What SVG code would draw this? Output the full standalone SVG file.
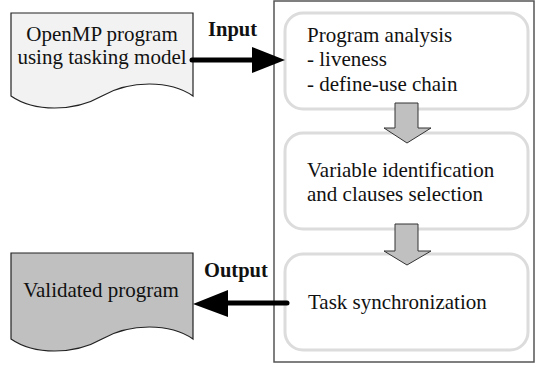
<svg xmlns="http://www.w3.org/2000/svg" width="535" height="367" viewBox="0 0 535 367">
<defs>
<style>
.t{font-family:"Liberation Serif","Times New Roman",serif;font-size:21px;fill:#111}
.lbl{font-family:"Liberation Serif","Times New Roman",serif;font-weight:bold;font-size:20.5px;fill:#111}
.doc{stroke:#222;stroke-width:1.2}
.step{fill:#fff;stroke:#dcdcdc;stroke-width:3}
.flow{fill:#c0c0c0;stroke:#333;stroke-width:1}
.io{stroke:#000;stroke-width:5;stroke-linecap:round;fill:none}
</style>
</defs>
<rect id="frame" x="274" y="1" width="260" height="361" fill="#fff" stroke="#555" stroke-width="1.5"/>
<g id="input-doc">
<path class="doc" fill="#f2f2f2" d="M11,13 H193 V96 C170,80 130,80 102,96 C74,112 34,112 11,96 Z"/>
<text class="t" font-family="Liberation Serif, serif" x="102" y="41" text-anchor="middle" font-size="19.5">OpenMP program</text>
<text class="t" font-family="Liberation Serif, serif" x="102" y="63.5" text-anchor="middle" font-size="19.5">using tasking model</text>
</g>
<g id="output-doc">
<path class="doc" fill="#c0c0c0" d="M11,253 H193 V339 C170,323 130,323 102,339 C74,355 34,355 11,339 Z"/>
<text class="t" font-family="Liberation Serif, serif" x="101" y="297" text-anchor="middle">Validated program</text>
</g>
<g id="analysis">
<rect class="step" x="285" y="13" width="243" height="96" rx="18"/>
<text class="t" font-family="Liberation Serif, serif" x="307" y="42">Program analysis</text>
<text class="t" font-family="Liberation Serif, serif" x="307" y="66">- liveness</text>
<text class="t" font-family="Liberation Serif, serif" x="307" y="91">- define-use chain</text>
</g>
<g id="identification">
<rect class="step" x="285" y="133" width="243" height="96" rx="18"/>
<text class="t" font-family="Liberation Serif, serif" x="307" y="177">Variable identification</text>
<text class="t" font-family="Liberation Serif, serif" x="307" y="201">and clauses selection</text>
</g>
<g id="synchronization">
<rect class="step" x="285" y="254" width="243" height="96" rx="18"/>
<text class="t" font-family="Liberation Serif, serif" x="308" y="309">Task synchronization</text>
</g>
<g id="connectors">
<path class="flow" d="M395,103 H418 V128 H431 L407,143 L384,128 H395 Z"/>
<path class="flow" d="M395,224 H418 V251 H431 L407,265 L384,251 H395 Z"/>
<line class="io" x1="192" y1="60" x2="255" y2="60"/>
<path d="M252,47 L285,60 L252,73 Z" fill="#000"/>
<line class="io" x1="287" y1="303" x2="225" y2="303"/>
<path d="M228,290 L193,304 L228,317 Z" fill="#000"/>
<text class="lbl" font-family="Liberation Serif, serif" x="208" y="36">Input</text>
<text class="lbl" font-family="Liberation Serif, serif" x="204" y="277">Output</text>
</g>
</svg>
